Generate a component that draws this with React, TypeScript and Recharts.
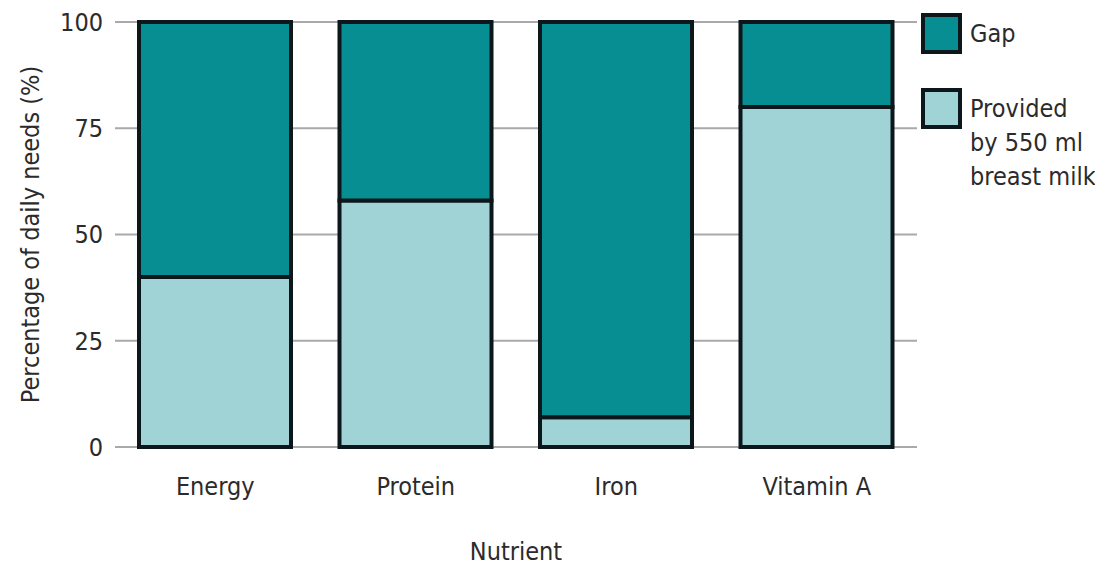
import { Bar, BarChart, CartesianGrid, XAxis, YAxis } from "recharts";

const nutrients = ["Energy", "Protein", "Iron", "Vitamin A"];
const providedByMilk = [40, 58, 7, 80];
const gap = [60, 42, 93, 20];
const yTicks = [0, 25, 50, 75, 100];

const legendItems = [
  { label: "Gap", color: "#078e93" },
  { label: "Provided\nby 550 ml\nbreast milk", color: "#9fd3d6" },
];

const rows = nutrients.map((name, i) => ({
  name,
  provided: providedByMilk[i],
  gap: gap[i],
}));

const font = "'DejaVu Sans Condensed', 'Liberation Sans Narrow', Arial, sans-serif";
const ink = "#2b2b2b";
const edge = "#0b171b";

function NutrientLegend() {
  return (
    <div
      style={{
        position: "absolute",
        left: 921,
        top: 13,
        fontFamily: font,
        fontSize: 25,
        color: ink,
      }}
    >
      {legendItems.map((item, i) => (
        <div key={item.label} style={{ display: "flex", alignItems: "flex-start", marginBottom: i === 0 ? 34 : 0 }}>
          <div
            style={{
              width: 33,
              height: 33,
              background: item.color,
              border: `4px solid ${edge}`,
              flex: "none",
            }}
          />
          <div style={{ marginLeft: 8, whiteSpace: "pre", lineHeight: "34px", marginTop: 4 }}>{item.label}</div>
        </div>
      ))}
    </div>
  );
}

export default function App() {
  return (
    <div style={{ position: "absolute", left: 0, top: 0, width: 1095, height: 568, background: "#fff" }}>
      <BarChart
        width={1095}
        height={568}
        data={rows}
        margin={{ top: 22, right: 178, bottom: 0, left: 0 }}
        barSize={152}
      >
        <CartesianGrid vertical={false} stroke="#a9a9a9" strokeWidth={2} />
        <XAxis
          dataKey="name"
          axisLine={false}
          tickLine={false}
          tickSize={0}
          tickMargin={30}
          height={121}
          tick={{ fill: ink, fontSize: 25, fontFamily: font }}
          label={{
            value: "Nutrient",
            position: "insideBottom",
            offset: 8,
            style: { fill: ink, fontSize: 25, fontFamily: font },
          }}
        />
        <YAxis
          domain={[0, 100]}
          ticks={yTicks}
          width={115}
          axisLine={false}
          tickLine={false}
          tickSize={0}
          tickMargin={12}
          tick={{ fill: ink, fontSize: 25, fontFamily: font }}
          label={{
            value: "Percentage of daily needs (%)",
            angle: -90,
            position: "insideLeft",
            offset: 30,
            style: { fill: ink, fontSize: 25, fontFamily: font, textAnchor: "middle" },
          }}
        />
        <Bar dataKey="provided" stackId="a" fill="#9fd3d6" stroke={edge} strokeWidth={4} isAnimationActive={false} />
        <Bar dataKey="gap" stackId="a" fill="#078e93" stroke={edge} strokeWidth={4} isAnimationActive={false} />
      </BarChart>
      <NutrientLegend />
    </div>
  );
}
